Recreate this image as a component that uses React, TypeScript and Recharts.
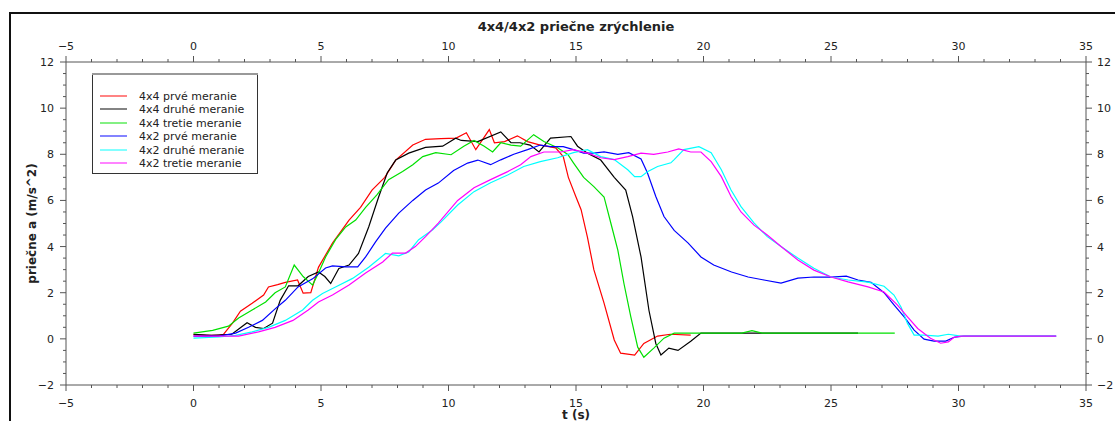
import { Legend, Label, Line, LineChart, XAxis, YAxis } from "recharts";

type Pt = [number, number];

const tTicks = Array.from({ length: 41 }, (_, i) => i - 5);
const aTicks = Array.from({ length: 29 }, (_, i) => -2 + i * 0.5);

// 4x4 prvé meranie
const prve4x4: Pt[] = [
  [0, 0.18], [0.5, 0.15], [1.0, 0.15], [1.18, 0.2], [1.53, 0.68], [1.84, 1.2], [2.3, 1.54],
  [2.75, 1.9], [2.94, 2.25], [3.3, 2.35], [3.6, 2.45], [4.08, 2.55], [4.3, 1.98], [4.6, 2.0],
  [4.9, 3.1], [5.45, 4.15], [6.1, 5.15], [6.55, 5.7], [7.0, 6.45], [7.5, 7.0], [7.93, 7.75],
  [8.6, 8.4], [9.1, 8.65], [9.7, 8.68], [10.3, 8.7], [10.7, 8.93], [11.07, 8.2], [11.6, 9.07],
  [11.8, 8.5], [12.2, 8.55], [12.7, 8.8], [13.1, 8.55], [13.6, 8.4], [14.2, 8.28], [14.5, 7.9],
  [14.7, 7.0], [15.0, 6.15], [15.2, 5.6], [15.45, 4.4], [15.7, 3.0], [16.1, 1.55], [16.5, -0.05],
  [16.75, -0.62], [17.3, -0.7], [17.66, -0.2], [18.2, 0.12], [18.7, 0.2], [19.5, 0.16],
];

// 4x4 druhé meranie
const druhe4x4: Pt[] = [
  [0, 0.2], [0.7, 0.15], [1.5, 0.2], [1.8, 0.45], [2.1, 0.7], [2.43, 0.5], [2.75, 0.45],
  [3.1, 0.68], [3.4, 1.67], [3.73, 2.3], [4.1, 2.3], [4.5, 2.7], [4.9, 2.9], [5.15, 2.7],
  [5.38, 2.4], [5.7, 3.05], [6.1, 3.2], [6.47, 3.7], [6.87, 4.85], [7.26, 6.15], [7.6, 7.2],
  [7.93, 7.75], [8.44, 8.05], [9.1, 8.3], [9.77, 8.35], [10.28, 8.7], [10.5, 8.6], [11.15, 8.55],
  [12.05, 8.97], [12.45, 8.5], [12.8, 8.5], [13.2, 8.4], [13.55, 8.1], [14.0, 8.7], [14.8, 8.77],
  [15.06, 8.35], [15.45, 8.05], [15.97, 7.75], [16.5, 7.0], [16.95, 6.45], [17.22, 5.3],
  [17.55, 3.55], [17.86, 1.24], [18.13, -0.2], [18.33, -0.7], [18.64, -0.4], [19.0, -0.5],
  [19.5, -0.1], [19.9, 0.25], [22.0, 0.25], [24.0, 0.25], [26.06, 0.25],
];

// 4x4 tretie meranie
const tretie4x4: Pt[] = [
  [0, 0.25], [0.75, 0.37], [1.37, 0.55], [1.77, 0.9], [2.3, 1.25], [2.83, 1.6], [3.2, 2.0],
  [3.6, 2.25], [3.95, 3.2], [4.3, 2.7], [4.67, 2.33], [4.9, 2.85], [5.18, 3.55], [5.57, 4.3],
  [5.97, 4.85], [6.36, 5.15], [6.75, 5.7], [7.2, 6.25], [7.65, 6.9], [8.2, 7.25], [8.6, 7.55],
  [8.99, 7.9], [9.5, 8.07], [10.1, 7.98], [10.6, 8.35], [11.0, 8.6], [11.4, 8.35], [11.73, 8.1],
  [12.05, 8.5], [12.45, 8.4], [12.83, 8.35], [13.34, 8.85], [13.74, 8.55], [14.28, 8.28],
  [14.68, 7.99], [14.9, 7.63], [15.3, 7.0], [15.7, 6.6], [16.1, 6.15], [16.37, 5.0], [16.64, 3.85],
  [16.88, 2.4], [17.15, 0.95], [17.42, -0.36], [17.66, -0.8], [18.05, -0.4], [18.45, 0.03],
  [18.85, 0.25], [21.5, 0.25], [21.9, 0.36], [22.3, 0.25], [27.5, 0.25],
];

// 4x2 prvé meranie
const prve4x2: Pt[] = [
  [0, 0.12], [1.0, 0.12], [1.65, 0.25], [2.16, 0.5], [2.7, 0.8], [3.2, 1.3], [3.6, 1.67],
  [4.1, 2.25], [4.67, 2.6], [5.18, 3.07], [5.45, 3.16], [5.97, 3.12], [6.44, 3.12], [6.75, 3.55],
  [7.14, 4.2], [7.53, 4.8], [8.05, 5.45], [8.6, 6.0], [9.1, 6.45], [9.6, 6.75], [10.2, 7.3],
  [10.75, 7.62], [11.15, 7.75], [11.65, 7.55], [12.05, 7.76], [12.56, 8.0], [13.1, 8.2],
  [13.6, 8.4], [14.0, 8.33], [14.5, 8.33], [14.9, 8.2], [15.3, 8.05], [15.7, 8.05], [16.1, 8.1],
  [16.64, 8.0], [17.07, 8.07], [17.55, 7.8], [17.8, 7.2], [18.13, 6.17], [18.45, 5.3],
  [18.85, 4.7], [19.4, 4.15], [19.9, 3.55], [20.4, 3.2], [21.1, 2.9], [21.75, 2.68],
  [22.37, 2.55], [23.04, 2.42], [23.7, 2.63], [24.33, 2.68], [25.0, 2.68], [25.6, 2.72],
  [26.06, 2.55], [26.57, 2.45], [27.08, 2.0], [27.47, 1.47], [27.87, 0.95], [28.26, 0.38],
  [28.65, -0.01], [29.04, -0.1], [29.5, -0.1], [29.83, 0.07], [30.2, 0.12], [33.83, 0.12],
];

// 4x2 druhé meranie
const druhe4x2: Pt[] = [
  [0, 0.03], [1.0, 0.08], [1.65, 0.15], [2.3, 0.3], [2.94, 0.5], [3.6, 0.8], [4.28, 1.25],
  [4.67, 1.67], [5.06, 1.97], [5.57, 2.25], [6.24, 2.62], [6.87, 3.1], [7.53, 3.7], [8.05, 3.6],
  [8.44, 3.77], [8.83, 4.3], [9.38, 4.73], [9.7, 5.06], [10.36, 5.8], [11.0, 6.38], [11.65, 6.77],
  [12.32, 7.1], [12.95, 7.47], [13.6, 7.68], [14.28, 7.85], [14.9, 8.07], [15.45, 8.2],
  [15.97, 7.9], [16.5, 7.77], [17.03, 7.33], [17.3, 7.03], [17.55, 7.03], [17.8, 7.24],
  [18.2, 7.47], [18.72, 7.63], [18.85, 7.77], [19.23, 8.2], [19.82, 8.33], [20.3, 8.07],
  [20.7, 7.33], [21.08, 6.45], [21.47, 5.73], [21.98, 5.03], [22.5, 4.43], [23.04, 4.0],
  [23.7, 3.5], [24.33, 3.06], [25.0, 2.68], [25.67, 2.55], [26.45, 2.46], [27.08, 2.28],
  [27.47, 1.9], [27.75, 1.37], [28.0, 0.67], [28.26, 0.16], [28.65, 0.16], [29.2, 0.12],
  [29.6, 0.2], [30.1, 0.12], [33.83, 0.12],
];

// 4x2 tretie meranie
const tretie4x2: Pt[] = [
  [0, 0.12], [1.77, 0.12], [2.55, 0.3], [3.2, 0.5], [3.9, 0.8], [4.5, 1.25], [4.9, 1.6],
  [5.45, 1.9], [6.1, 2.33], [6.75, 2.85], [7.42, 3.33], [7.8, 3.72], [8.32, 3.72], [8.7, 4.0],
  [9.1, 4.43], [9.6, 5.02], [10.36, 6.0], [11.0, 6.55], [11.65, 6.9], [12.32, 7.25], [12.83, 7.55],
  [13.23, 7.9], [13.74, 8.1], [14.4, 8.1], [14.9, 8.2], [15.45, 8.05], [15.97, 7.85], [16.5, 7.77],
  [17.03, 7.9], [17.55, 8.05], [18.05, 8.0], [18.6, 8.1], [19.03, 8.23], [19.5, 8.1], [19.9, 8.1],
  [20.3, 7.68], [20.7, 7.03], [21.08, 6.17], [21.47, 5.5], [21.98, 4.93], [22.5, 4.5],
  [23.04, 4.0], [23.7, 3.42], [24.33, 2.98], [25.0, 2.68], [25.67, 2.47], [26.45, 2.25],
  [27.08, 2.03], [27.6, 1.47], [28.0, 0.95], [28.4, 0.45], [28.9, 0.03], [29.3, -0.19],
  [29.6, -0.13], [29.83, 0.07], [30.1, 0.12], [33.83, 0.12],
];

const series = [
  { name: "4x4 prvé meranie", color: "#ff0000", points: prve4x4 },
  { name: "4x4 druhé meranie", color: "#000000", points: druhe4x4 },
  { name: "4x4 tretie meranie", color: "#00e000", points: tretie4x4 },
  { name: "4x2 prvé meranie", color: "#0000ff", points: prve4x2 },
  { name: "4x2 druhé meranie", color: "#00ffff", points: druhe4x2 },
  { name: "4x2 tretie meranie", color: "#ff00ff", points: tretie4x2 },
];

const AXIS = "#555";
const TEXT = "#222";
const FONT = "'DejaVu Sans', Verdana, sans-serif";

function fmt(v: number) {
  return v < 0 ? `\u2212${Math.abs(v)}` : `${v}`;
}

function BottomTick({ x, y, payload }: any) {
  const major = payload.value % 5 === 0;
  return (
    <g>
      <line x1={x} x2={x} y1={y} y2={y + (major ? 6 : 3)} stroke={AXIS} />
      {major && (
        <text x={x} y={y + 22} textAnchor="middle" fontSize={11} fill={TEXT}>
          {fmt(payload.value)}
        </text>
      )}
    </g>
  );
}

function TopTick({ x, y, payload }: any) {
  const major = payload.value % 5 === 0;
  return (
    <g>
      <line x1={x} x2={x} y1={y} y2={y - (major ? 6 : 3)} stroke={AXIS} />
      {major && (
        <text x={x} y={y - 12} textAnchor="middle" fontSize={11} fill={TEXT}>
          {fmt(payload.value)}
        </text>
      )}
    </g>
  );
}

function LeftTick({ x, y, payload }: any) {
  const major = payload.value % 2 === 0;
  return (
    <g>
      <line x1={x} x2={x - (major ? 6 : 3)} y1={y} y2={y} stroke={AXIS} />
      {major && (
        <text x={x - 12} y={y + 4} textAnchor="end" fontSize={11} fill={TEXT}>
          {fmt(payload.value)}
        </text>
      )}
    </g>
  );
}

function RightTick({ x, y, payload }: any) {
  const major = payload.value % 2 === 0;
  return (
    <g>
      <line x1={x} x2={x + (major ? 6 : 3)} y1={y} y2={y} stroke={AXIS} />
      {major && (
        <text x={x + 11} y={y + 4} textAnchor="start" fontSize={11} fill={TEXT}>
          {fmt(payload.value)}
        </text>
      )}
    </g>
  );
}

// legend keeps the order of the series, not the alphabetical one
function LegendBox() {
  return (
    <svg width={166} height={101} style={{ display: "block" }}>
      <rect x={0.5} y={0.5} width={165} height={100} fill="#fff" stroke="#333" />
      <line x1={0} x2={166} y1={1} y2={1} stroke="#999" strokeWidth={2} />
      {series.map((s, i) => {
        const cy = Math.round(23 + i * 13.4);
        return (
          <g key={s.name}>
            <line x1={8} x2={35} y1={cy} y2={cy} stroke={s.color} strokeOpacity={0.65} strokeWidth={1.5} />
            <text x={47} y={cy + 4} fontSize={11} fill={TEXT} fontFamily={FONT}>
              {s.name}
            </text>
          </g>
        );
      })}
    </svg>
  );
}

export default function App() {
  return (
    <div style={{ position: "absolute", left: 0, top: 0, width: 1115, height: 421, overflow: "hidden", background: "#fff" }}>
      <div
        style={{
          position: "absolute",
          left: 9,
          top: 12,
          width: 1200,
          height: 500,
          borderTop: "2px solid #111",
          borderLeft: "2px solid #111",
        }}
      />
      <div style={{ position: "absolute", left: 0, top: 0 }}>
        <LineChart
          width={1115}
          height={421}
          margin={{ top: 32, right: 0, bottom: 6, left: 26 }}
          style={{ fontFamily: FONT }}
        >
          <XAxis
            xAxisId="bottom"
            type="number"
            dataKey="t"
            orientation="bottom"
            domain={[-5, 35]}
            ticks={tTicks}
            interval={0}
            allowDataOverflow
            height={30}
            tickSize={0}
            tickMargin={0}
            tickLine={false}
            axisLine={{ stroke: AXIS }}
            tick={<BottomTick />}
          >
            <Label
              content={({ viewBox }: any) => (
                <text
                  x={viewBox.x + viewBox.width / 2}
                  y={viewBox.y + 34}
                  textAnchor="middle"
                  fontSize={12}
                  fontWeight="bold"
                  fill={TEXT}
                >
                  t (s)
                </text>
              )}
            />
          </XAxis>
          <XAxis
            xAxisId="top"
            type="number"
            dataKey="t"
            orientation="top"
            domain={[-5, 35]}
            ticks={tTicks}
            interval={0}
            allowDataOverflow
            height={30}
            tickSize={0}
            tickMargin={0}
            tickLine={false}
            axisLine={{ stroke: AXIS }}
            tick={<TopTick />}
          >
            <Label
              content={({ viewBox }: any) => (
                <text
                  x={viewBox.x + viewBox.width / 2}
                  y={viewBox.y - 1}
                  textAnchor="middle"
                  fontSize={13}
                  fontWeight="bold"
                  fill={TEXT}
                >
                  4x4/4x2 priečne zrýchlenie
                </text>
              )}
            />
          </XAxis>
          <YAxis
            yAxisId="left"
            type="number"
            orientation="left"
            domain={[-2, 12]}
            ticks={aTicks}
            interval={0}
            allowDataOverflow
            width={40}
            tickSize={0}
            tickMargin={0}
            tickLine={false}
            axisLine={{ stroke: AXIS }}
            tick={<LeftTick />}
          >
            <Label
              content={({ viewBox }: any) => {
                const cx = viewBox.x + 10;
                const cy = viewBox.y + viewBox.height / 2;
                return (
                  <text
                    x={cx}
                    y={cy}
                    transform={`rotate(-90 ${cx} ${cy})`}
                    textAnchor="middle"
                    fontSize={12}
                    fontWeight="bold"
                    fill={TEXT}
                  >
                    priečne a (m/s^2)
                  </text>
                );
              }}
            />
          </YAxis>
          <YAxis
            yAxisId="right"
            type="number"
            orientation="right"
            domain={[-2, 12]}
            ticks={aTicks}
            interval={0}
            allowDataOverflow
            width={29}
            tickSize={0}
            tickMargin={0}
            tickLine={false}
            axisLine={{ stroke: AXIS }}
            tick={<RightTick />}
          />
          <Legend
            layout="vertical"
            align="center"
            verticalAlign="middle"
            wrapperStyle={{ left: 92, top: 73, width: 166 }}
            content={<LegendBox />}
          />
          {series.map((s) => (
            <Line
              key={s.name}
              xAxisId="bottom"
              yAxisId="left"
              name={s.name}
              data={s.points.map(([t, a]) => ({ t, a }))}
              dataKey="a"
              type="linear"
              stroke={s.color}
              strokeWidth={1.2}
              dot={false}
              activeDot={false}
              legendType="line"
              isAnimationActive={false}
            />
          ))}
        </LineChart>
      </div>
    </div>
  );
}
